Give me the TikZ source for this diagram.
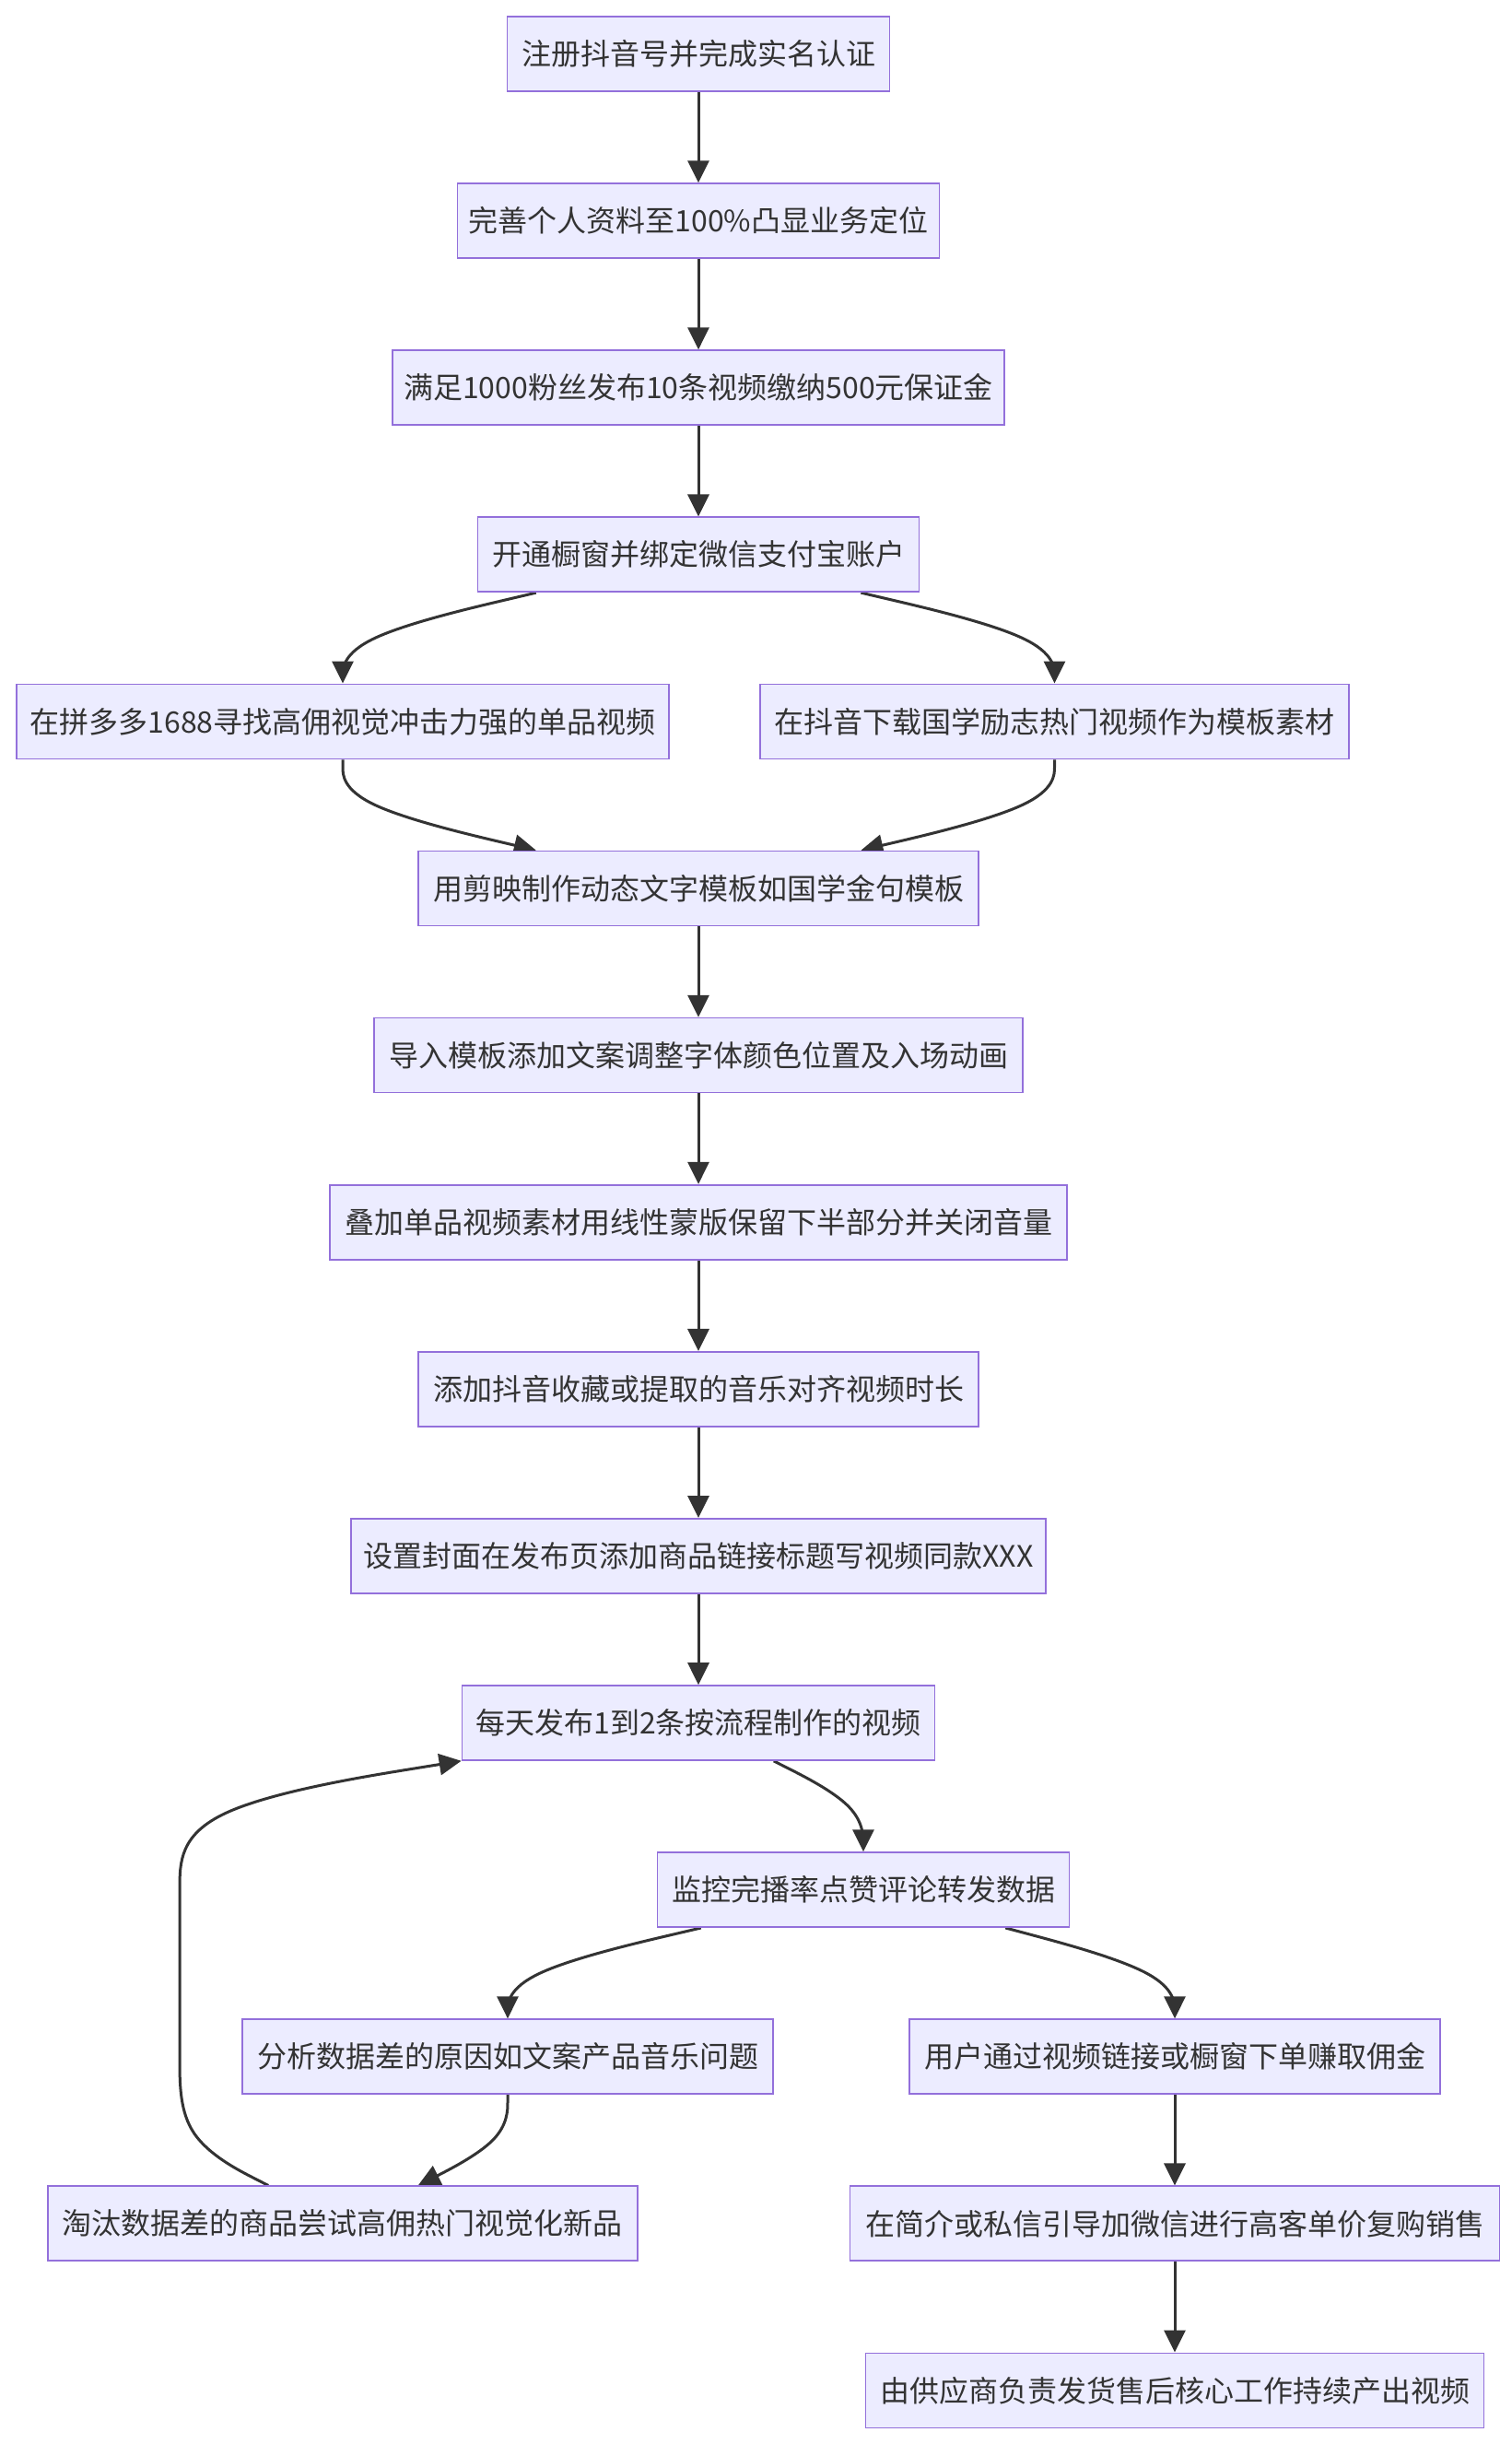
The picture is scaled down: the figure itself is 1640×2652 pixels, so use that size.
\documentclass[tikz,border=0pt]{standalone}
\usepackage{fontspec}
\newfontfamily\cjk{Noto Sans CJK SC}
\usetikzlibrary{arrows.meta,calc,backgrounds}
\definecolor{nodefill}{HTML}{ECECFF}
\definecolor{nodeline}{HTML}{9370DB}
\definecolor{linkc}{HTML}{333333}
\definecolor{textc}{HTML}{333333}
\tikzset{
  box/.style={draw=nodeline, fill=nodefill, line width=0.85pt, rectangle,
    minimum height=40.5pt, inner xsep=6pt, inner ysep=0pt, text=textc,
    font=\cjk\fontsize{16pt}{18pt}\selectfont},
  wd/.style={minimum width=#1*0.5pt},
  link/.style={draw=linkc, line width=1.5pt, -{Triangle[length=12pt,width=11.5pt]}}
}
\newcommand{\mmedge}[3]{%
  \path (#1) -- (#2) coordinate[pos=0] (ba);
  \path (#2) -- (#3) coordinate[pos=1] (bc);
  \path ($(ba)!0.5!(bc)$) coordinate (bm);
  \draw[link] (ba) -- ($(ba)!1/6!(#2)$)
    .. controls ($(ba)!1/3!(#2)$) and ($(ba)!2/3!(#2)$) .. ($(#2)!1/3!(bm)$)
    .. controls ($(#2)!1/3!(bc)$) and ($(#2)!2/3!(bc)$) .. ($(#2)!5/6!(bc)$)
    -- (bc);}
\begin{document}
\begin{tikzpicture}[x=0.5pt,y=-0.5pt]
\useasboundingbox (0,0) rectangle (1640,2652);
% nodes
\node[box,wd=415] (n1) at (758,58.5) {注册抖音号并完成实名认证};
\node[box,wd=516] (n2) at (758,239.6) {完善个人资料至100\%凸显业务定位};
\node[box,wd=662] (n3) at (758,420.7) {满足1000粉丝发布10条视频缴纳500元保证金};
\node[box,wd=479] (n4) at (758,601.8) {开通橱窗并绑定微信支付宝账户};
\node[box,wd=708] (n5) at (372,782.9) {在拼多多1688寻找高佣视觉冲击力强的单品视频};
\node[box,wd=639] (n6) at (1144.5,782.9) {在抖音下载国学励志热门视频作为模板素材};
\node[box,wd=608] (n7) at (758,964) {用剪映制作动态文字模板如国学金句模板};
\node[box,wd=704] (n8) at (758,1145.1) {导入模板添加文案调整字体颜色位置及入场动画};
\node[box,wd=800] (n9) at (758,1326.2) {叠加单品视频素材用线性蒙版保留下半部分并关闭音量};
\node[box,wd=608] (n10) at (758,1507.3) {添加抖音收藏或提取的音乐对齐视频时长};
\node[box,wd=754] (n11) at (758,1688.4) {设置封面在发布页添加商品链接标题写视频同款XXX};
\node[box,wd=513] (n12) at (758,1869.5) {每天发布1到2条按流程制作的视频};
\node[box,wd=447] (n13) at (937,2050.6) {监控完播率点赞评论转发数据};
\node[box,wd=576] (n14) at (551,2231.7) {分析数据差的原因如文案产品音乐问题};
\node[box,wd=576] (n15) at (1275,2231.7) {用户通过视频链接或橱窗下单赚取佣金};
\node[box,wd=640] (n16) at (372,2412.8) {淘汰数据差的商品尝试高佣热门视觉化新品};
\node[box,wd=705] (n17) at (1275,2412.8) {在简介或私信引导加微信进行高客单价复购销售};
\node[box,wd=671] (n18) at (1275,2593.9) {由供应商负责发货售后核心工作持续产出视频};
% bend points
\coordinate (b45) at (372,692.35);
\coordinate (b46) at (1144.5,692.35);
\coordinate (b57) at (372,873.45);
\coordinate (b67) at (1144.5,873.45);
\coordinate (b1213) at (937,1960.05);
\coordinate (b1314) at (551,2141.15);
\coordinate (b1315) at (1275,2141.15);
\coordinate (b1416) at (551,2322.25);
\coordinate (q1) at (195,2322.25);
\coordinate (q2) at (195,2231.7);
\coordinate (q4) at (195,2050.6);
\coordinate (q5) at (195,1960.05);
\begin{pgfonlayer}{background}
\fill[white] (0,0) rectangle (1640,2652);
\draw[link] (n1) -- (n2);
\draw[link] (n2) -- (n3);
\draw[link] (n3) -- (n4);
\mmedge{n4}{b45}{n5}
\mmedge{n4}{b46}{n6}
\mmedge{n5}{b57}{n7}
\mmedge{n6}{b67}{n7}
\draw[link] (n7) -- (n8);
\draw[link] (n8) -- (n9);
\draw[link] (n9) -- (n10);
\draw[link] (n10) -- (n11);
\draw[link] (n11) -- (n12);
\mmedge{n12}{b1213}{n13}
\mmedge{n13}{b1314}{n14}
\mmedge{n13}{b1315}{n15}
\mmedge{n14}{b1416}{n16}
\draw[link] (n15) -- (n17);
\draw[link] (n17) -- (n18);
% loop back n16 -> n12
\path (n16) -- (q1) coordinate[pos=0] (q0);
\path (q5) -- (n12) coordinate[pos=1] (q6);
\path ($(q0)!0.5!(q2)$) coordinate (m02);
\path ($(q4)!0.5!(q6)$) coordinate (m46);
\draw[link] (q0) -- ($(q0)!1/6!(q1)$)
  .. controls ($(q0)!1/3!(q1)$) and ($(q0)!2/3!(q1)$) .. ($(q1)!1/3!(m02)$)
  .. controls ($(q1)!1/3!(q2)$) and ($(q1)!2/3!(q2)$) .. (q2)
  -- (q4)
  .. controls ($(q4)!1/3!(q5)$) and ($(q4)!2/3!(q5)$) .. ($(q5)!1/3!(m46)$)
  .. controls ($(q5)!1/3!(q6)$) and ($(q5)!2/3!(q6)$) .. ($(q5)!5/6!(q6)$)
  -- (q6);
\end{pgfonlayer}
\end{tikzpicture}
\end{document}
